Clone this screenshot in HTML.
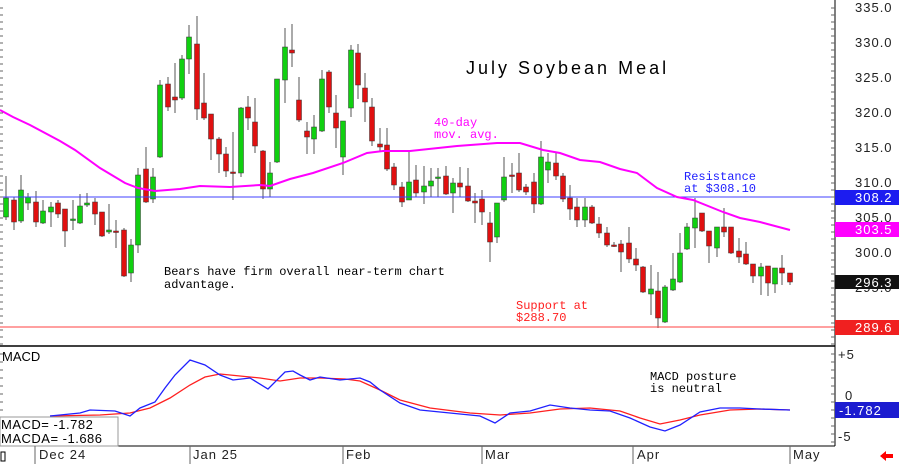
<!DOCTYPE html>
<html><head><meta charset="utf-8"><style>
body{margin:0;background:#fff;}
svg{display:block;font-family:"Liberation Mono","DejaVu Sans Mono",monospace;}
.ax{font-family:"Liberation Sans",sans-serif;letter-spacing:1px;}
</style></head><body>
<svg id="c" width="899" height="464" xmlns="http://www.w3.org/2000/svg">
<rect width="899" height="464" fill="#fff"/>
<g id="cand"></g>
<line x1="0" y1="197" x2="835" y2="197" stroke="#4040ff" stroke-width="1"/>
<line x1="0" y1="327" x2="835" y2="327" stroke="#ff4040" stroke-width="1"/>
<polyline fill="none" stroke="#ff00ff" stroke-width="2" points="0,110 13,117 30,125 60,141 75,150 100,168 125,183 138,188 155,191 180,189 200,186 230,187 260,185 270,186 290,179 313,173 343,163 367,153 383,151 410,151 457,146 497,143 520,143 543,150 560,153 580,160 600,162 620,169 637,173 657,188 677,197 693,200 723,212 740,218 760,222 790,230"/>
<line x1="0" y1="346" x2="835" y2="346" stroke="#000" stroke-width="1.5"/>
<line x1="835" y1="0" x2="835" y2="446" stroke="#000"/>
<line x1="0" y1="446" x2="835" y2="446" stroke="#000"/>
<g id="ticks" stroke="#666"></g>
<polyline fill="none" stroke="#ff2020" stroke-width="1.3" points="50,416 100,415 130,413 150,408 170,398 190,385 205,377 220,374 240,376 260,378 280,381 300,378 320,378 345,379 360,381 380,390 400,400 430,408 470,413 500,415 530,413 560,409 590,408 620,411 640,418 660,424 680,420 700,415 730,410 760,409 790,410"/>
<polyline fill="none" stroke="#2020ff" stroke-width="1.3" points="50,416 80,413 90,410 115,411 130,416 140,408 155,402 165,388 175,375 190,360 205,365 220,375 233,380 250,378 268,389 285,372 293,371 300,375 310,380 320,377 340,380 360,378 370,382 380,390 400,403 420,410 450,413 480,416 495,423 510,413 530,411 550,405 570,408 590,410 610,411 630,418 650,427 665,431 680,425 700,412 720,408 740,408 760,409 790,410"/>
<g font-size="13" fill="#000">
<text x="466" y="74" font-size="18" letter-spacing="1" class="ax" style="letter-spacing:3px">July Soybean Meal</text>
<text x="434" y="126" fill="#ff00ff" font-size="12">40-day</text>
<text x="434" y="138" fill="#ff00ff" font-size="12">mov. avg.</text>
<text x="684" y="180" fill="#2020ff" font-size="12">Resistance</text>
<text x="684" y="192" fill="#2020ff" font-size="12">at $308.10</text>
<text x="164" y="275" font-size="12">Bears have firm overall near-term chart</text>
<text x="164" y="288" font-size="12">advantage.</text>
<text x="516" y="309" fill="#ff2020" font-size="12">Support at</text>
<text x="516" y="321" fill="#ff2020" font-size="12">$288.70</text>
<text x="650" y="380" font-size="12">MACD posture</text>
<text x="650" y="392" font-size="12">is neutral</text>
<text x="2" y="361" font-size="13" class="ax" style="letter-spacing:0">MACD</text>
</g>
<rect x="0" y="417" width="118" height="29" fill="#fff" stroke="#999"/>
<text x="1" y="429" font-size="13" class="ax" style="letter-spacing:0.5px">MACD=  -1.782</text>
<text x="1" y="443" font-size="13" class="ax" style="letter-spacing:0.5px">MACDA= -1.686</text>
<g font-size="13" fill="#222" class="ax">
<text x="855" y="12">335.0</text><text x="855" y="47">330.0</text><text x="855" y="82">325.0</text>
<text x="855" y="117">320.0</text><text x="855" y="152">315.0</text><text x="855" y="187">310.0</text>
<text x="855" y="222">305.0</text><text x="855" y="257">300.0</text><text x="855" y="292">295.0</text>
<rect x="835" y="190" width="64" height="15" fill="#1c1cf0"/><text x="855" y="202" fill="#fff">308.2</text>
<rect x="835" y="222" width="64" height="15" fill="#ff00ff"/><text x="855" y="234" fill="#fff">303.5</text>
<rect x="835" y="275" width="64" height="14" fill="#111"/><text x="855" y="287" fill="#fff">296.3</text>
<rect x="835" y="320" width="64" height="15" fill="#f02020"/><text x="855" y="332" fill="#fff">289.6</text>
<text x="838" y="359">+5</text><text x="845" y="400">0</text><text x="838" y="441">-5</text>
<rect x="835" y="402" width="64" height="16" fill="#1c1cd0"/><text x="839" y="415" fill="#fff">-1.782</text>
<text x="39" y="459">Dec 24</text><text x="193" y="459">Jan 25</text><text x="346" y="459">Feb</text>
<text x="485" y="459">Mar</text><text x="637" y="459">Apr</text><text x="793" y="459">May</text>
</g>
<g stroke="#666"><line x1="35" y1="446" x2="35" y2="464"/><line x1="190" y1="446" x2="190" y2="464"/><line x1="343" y1="446" x2="343" y2="464"/><line x1="482" y1="446" x2="482" y2="464"/><line x1="633" y1="446" x2="633" y2="464"/><line x1="790" y1="446" x2="790" y2="464"/></g>
<rect x="1" y="452" width="4" height="9" fill="none" stroke="#000"/>
<polygon points="880,456 886,451 886,454 893,454 893,458 886,458 886,461" fill="#f00"/>
</svg>
<script>
var C=[[6,198,217,176,220,'g'],[14,200,222,197,230,'r'],[21,190,221,175,223,'g'],[28,197,203,193,210,'g'],[36,202,222,191,227,'r'],[43,211,223,200,224,'g'],[51,207,212,202,227,'g'],[58,203,214,200,218,'r'],[65,209,231,209,247,'r'],[73,219,220,200,230,'g'],[80,206,223,194,224,'g'],[87,203,205,193,207,'g'],[95,202,214,198,225,'r'],[102,212,236,212,237,'r'],[109,230,232,204,234,'g'],[116,231,231,220,248,'r'],[124,230,276,228,277,'r'],[131,245,273,239,282,'g'],[138,175,245,168,253,'g'],[146,169,202,147,203,'r'],[153,177,199,168,203,'g'],[160,85,157,80,158,'g'],[168,84,107,77,111,'r'],[175,97,100,63,113,'r'],[182,59,98,55,100,'g'],[189,37,59,25,74,'g'],[197,44,109,16,120,'r'],[204,103,118,73,120,'r'],[211,114,139,114,160,'r'],[219,139,154,137,173,'r'],[226,154,171,147,177,'r'],[233,172,173,132,200,'r'],[241,108,173,107,177,'g'],[248,107,118,96,130,'r'],[255,122,146,98,153,'r'],[263,151,189,150,199,'r'],[270,173,189,162,197,'g'],[277,79,162,79,163,'g'],[285,47,80,28,103,'g'],[292,50,53,24,67,'r'],[299,100,120,77,122,'r'],[307,131,137,122,154,'r'],[314,127,139,115,154,'g'],[322,79,131,70,132,'g'],[329,72,107,70,113,'r'],[336,113,128,95,148,'r'],[343,121,157,121,175,'g'],[351,50,108,45,117,'g'],[358,53,85,44,99,'r'],[365,88,102,73,122,'r'],[372,107,141,98,146,'r'],[380,144,147,128,152,'r'],[387,145,169,128,171,'r'],[394,167,185,163,190,'r'],[402,187,202,182,207,'r'],[409,182,200,151,200,'g'],[416,180,193,165,197,'r'],[424,186,192,166,204,'g'],[431,181,186,168,197,'g'],[438,177,178,168,197,'g'],[446,176,194,166,195,'r'],[453,183,193,178,213,'g'],[460,183,187,167,197,'r'],[468,186,201,168,202,'r'],[475,201,203,193,223,'r'],[482,199,212,190,225,'r'],[490,223,242,212,262,'r'],[497,203,237,203,243,'g'],[504,177,200,157,202,'g'],[512,175,176,163,193,'r'],[519,173,190,153,192,'r'],[526,187,192,184,195,'r'],[534,182,204,173,213,'r'],[541,157,204,141,205,'g'],[548,162,170,153,183,'g'],[556,163,176,152,180,'r'],[563,176,199,173,202,'r'],[570,198,209,185,220,'r'],[577,207,220,198,227,'r'],[585,207,220,198,227,'g'],[592,207,223,205,224,'r'],[599,224,233,217,238,'r'],[607,233,245,227,247,'r'],[614,245,246,242,247,'r'],[621,244,252,240,272,'r'],[629,243,259,227,263,'r'],[636,259,265,248,271,'r'],[643,267,292,266,293,'r'],[651,289,294,265,315,'g'],[658,291,318,272,328,'r'],[665,287,322,285,323,'g'],[673,279,290,253,291,'g'],[680,253,282,233,283,'g'],[687,227,249,223,250,'g'],[695,218,228,198,248,'g'],[702,213,231,213,232,'r'],[709,231,246,231,263,'r'],[717,227,248,227,257,'g'],[724,227,232,208,237,'r'],[731,227,253,227,254,'r'],[739,251,257,238,263,'r'],[746,254,264,242,265,'r'],[753,264,276,264,283,'r'],[761,267,276,263,295,'g'],[768,266,283,266,296,'r'],[775,268,284,268,293,'g'],[782,268,273,255,285,'r'],[790,273,282,273,285,'r']];
var g=document.getElementById('cand'),s='';
C.forEach(function(c){var x=c[0],t=Math.min(c[1],c[2]),b=Math.max(c[1],c[2]);var h=Math.max(b-t,1.5);
s+='<line x1="'+x+'" y1="'+c[3]+'" x2="'+x+'" y2="'+c[4]+'" stroke="#555" stroke-width="1"/>';
s+='<rect x="'+(x-2.5)+'" y="'+t+'" width="5" height="'+h+'" fill="'+(c[5]=='g'?'#10d010':'#e01010')+'" stroke="#333" stroke-width="0.5"/>';});
g.innerHTML=s;
var tk=document.getElementById('ticks'),t2='';
for(var y=8;y<346;y+=7){t2+='<line x1="0" y1="'+y+'" x2="3" y2="'+y+'"/><line x1="831" y1="'+y+'" x2="835" y2="'+y+'"/>';}
for(var y=354;y<446;y+=8){t2+='<line x1="0" y1="'+y+'" x2="3" y2="'+y+'"/><line x1="831" y1="'+y+'" x2="835" y2="'+y+'"/>';}
tk.innerHTML=t2;
</script>
</body></html>
